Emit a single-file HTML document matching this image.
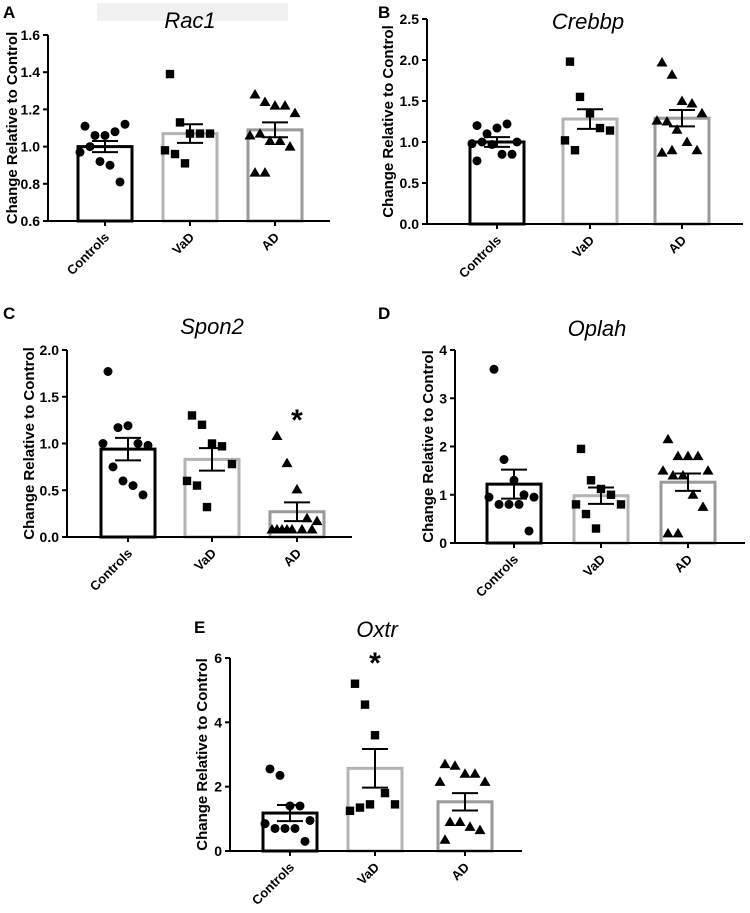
<!DOCTYPE html>
<html><head><meta charset="utf-8"><style>
body{margin:0;background:#fff;}
svg{display:block;font-family:"Liberation Sans",Arial,sans-serif;}
</style></head><body>
<svg id="fig" width="750" height="913" viewBox="0 0 750 913">
<rect x="97" y="3" width="191" height="18" fill="#f1f1f1"/>
</svg>
<script>
const categories = ["Controls","VaD","AD"];
const aMeans=[1.00,1.07,1.09], aErr=[0.03,0.05,0.04];
const aCtrl=[1.11,1.06,1.06,1.08,1.12,0.97,1.00,0.92,0.90,0.81];
const aVaD=[1.39,1.13,1.07,1.07,1.07,0.98,0.96,0.91];
const aAD=[1.28,1.24,1.22,1.22,1.18,1.06,1.07,1.03,1.03,1.00,0.86,0.86];
const aTicks=[0.6,0.8,1.0,1.2,1.4,1.6];
const bMeans=[1.00,1.28,1.29], bErr=[0.06,0.12,0.10];
const bCtrl=[1.20,1.10,1.17,1.22,1.00,0.98,1.00,0.97,0.85,0.85,0.77];
const bVaD=[1.98,1.55,1.35,1.17,1.14,1.02,0.90];
const bAD=[1.97,1.82,1.50,1.47,1.35,1.26,1.25,1.15,1.00,0.90,0.87,0.90];
const bTicks=[0.0,0.5,1.0,1.5,2.0,2.5];
const cMeans=[0.94,0.83,0.27], cErr=[0.12,0.12,0.10];
const cCtrl=[1.77,1.17,1.19,1.00,0.98,1.00,0.75,0.60,0.55,0.45];
const cVaD=[1.30,1.20,1.00,0.97,0.78,0.60,0.55,0.32];
const cAD=[1.08,0.79,0.51,0.20,0.17,0.08,0.08,0.08,0.08,0.08,0.08,0.08];
const cTicks=[0.0,0.5,1.0,1.5,2.0];
const dMeans=[1.22,0.98,1.26], dErr=[0.30,0.17,0.18];
const dCtrl=[3.60,1.73,1.30,1.00,0.95,0.95,0.80,0.80,0.80,0.25];
const dVaD=[1.95,1.30,1.12,1.00,0.80,0.80,0.60,0.30];
const dAD=[2.15,1.80,1.80,1.80,1.50,1.50,1.40,1.40,1.00,0.75,0.20,0.20];
const dTicks=[0,1,2,3,4];
const eMeans=[1.18,2.57,1.53], eErr=[0.25,0.60,0.27];
const eCtrl=[2.55,2.35,1.40,1.40,0.95,0.85,0.70,0.70,0.70,0.30];
const eVaD=[5.20,4.55,3.60,1.80,1.45,1.25,1.35,1.45];
const eAD=[2.70,2.65,2.40,2.40,2.15,2.15,0.90,0.90,0.75,0.65,0.35];
const eTicks=[0,2,4,6];

const svg=document.getElementById('fig');
const NS='http://www.w3.org/2000/svg';
function mk(tag,attrs,parent){const e=document.createElementNS(NS,tag);for(const k in attrs)e.setAttribute(k,attrs[k]);(parent||svg).appendChild(e);return e;}
const barColors=['#000','#b3b3b3','#9a9a9a'];

function panel(cfg){
  const g=mk('g',{});
  
  
  const y0=cfg.ticks[0], y1=cfg.ticks[cfg.ticks.length-1];
  const Y=v=>cfg.bottom-(v-y0)/(y1-y0)*(cfg.bottom-cfg.top);
  const L=mk('text',{x:cfg.lx,y:cfg.ly,'font-size':17,'font-weight':'bold'},g);L.textContent=cfg.letter;
  
  
  const T=mk('text',{x:cfg.tx,y:cfg.ty,'font-size':22,'font-style':'italic','text-anchor':'middle'},g);T.textContent=cfg.title;
  
  
  cfg.means.forEach((m,i)=>{
    const cx=cfg.cx[i];
    const r=mk('rect',{x:cx-27,y:Y(m),width:54,height:cfg.bottom-Y(m),fill:'#fff',stroke:barColors[i],'stroke-width':3},g);
    
    
  });
  cfg.pts.forEach((arr,i)=>{
    const cx=cfg.cx[i];
    arr.forEach((v,j)=>{
      const off=((j%5)-2)*10+(Math.floor(j/5)%2?-5:0);
      const px=cx+off, py=Y(v);
      let p;
      if(i===0)p=mk('circle',{cx:px,cy:py,r:4.5,fill:'#000'},g);
      else if(i===1)p=mk('rect',{x:px-4.2,y:py-4.2,width:8.4,height:8.4,fill:'#000'},g);
      else p=mk('polygon',{points:`${px},${py-5.5} ${px+5.5},${py+4} ${px-5.5},${py+4}`,fill:'#000'},g);
      
      
    });
  });
  cfg.means.forEach((m,i)=>{
    const cx=cfg.cx[i],e=cfg.err[i];
    const eg=mk('g',{stroke:'#000','stroke-width':2},g);
    
    
    mk('line',{x1:cx,x2:cx,y1:Y(m+e),y2:Y(m-e)},eg);
    mk('line',{x1:cx-13,x2:cx+13,y1:Y(m+e),y2:Y(m+e)},eg);
    mk('line',{x1:cx-13,x2:cx+13,y1:Y(m-e),y2:Y(m-e)},eg);
  });
  const ax=mk('g',{stroke:'#000','stroke-width':2},g);
  
  
  mk('line',{x1:cfg.ax,x2:cfg.ax,y1:cfg.top,y2:cfg.bottom},ax);
  mk('line',{x1:cfg.ax,x2:cfg.xend,y1:cfg.bottom,y2:cfg.bottom},ax);
  cfg.ticks.forEach(t=>{
    mk('line',{x1:cfg.ax-5,x2:cfg.ax,y1:Y(t),y2:Y(t)},ax);
    const tl=mk('text',{x:cfg.ax-8,y:Y(t)+5,'font-size':14,'font-weight':'bold','text-anchor':'end'},g);
    tl.textContent=cfg.fmt(t);
    
    
  });
  categories.forEach((c,i)=>{
    const cx=cfg.cx[i];
    mk('line',{x1:cx,x2:cx,y1:cfg.bottom,y2:cfg.bottom+5},ax);
    const xl=mk('text',{x:cx+5,y:cfg.bottom+17,'font-size':13,'font-weight':'bold','text-anchor':'end',transform:`rotate(-45 ${cx+5} ${cfg.bottom+17})`},g);
    xl.textContent=c;
    
    
  });
  const my=(cfg.top+cfg.bottom)/2;
  const yl=mk('text',{x:cfg.ylx,y:my,'font-size':15,'font-weight':'bold','text-anchor':'middle',transform:`rotate(-90 ${cfg.ylx} ${my})`},g);
  yl.textContent='Change Relative to Control';
  
  
  (cfg.stars||[]).forEach(i=>{
    const s=mk('text',{x:cfg.cx[i],y:cfg.starY,'font-size':30,'font-weight':'bold','text-anchor':'middle'},g);
    s.textContent='*';
    
    
  });
}
const f1=t=>t.toFixed(1), f0=t=>String(t);
panel({key:'rac1',letter:'A',lx:3,ly:18,title:'Rac1',tx:190,ty:28,ax:48,top:35,bottom:221,xend:330,cx:[105,190,275],ylx:17,ticks:aTicks,fmt:f1,means:aMeans,err:aErr,pts:[aCtrl,aVaD,aAD]});
panel({key:'crebbp',letter:'B',lx:378,ly:18,title:'Crebbp',tx:588,ty:29,ax:427,top:19,bottom:224,xend:743,cx:[497,590,682],ylx:393,ticks:bTicks,fmt:f1,means:bMeans,err:bErr,pts:[bCtrl,bVaD,bAD]});
panel({key:'spon2',letter:'C',lx:3,ly:319,title:'Spon2',tx:212,ty:334,ax:67,top:350,bottom:537,xend:352,cx:[128,212,297],ylx:34,ticks:cTicks,fmt:f1,means:cMeans,err:cErr,pts:[cCtrl,cVaD,cAD],stars:[2],starY:430});
panel({key:'oplah',letter:'D',lx:378,ly:319,title:'Oplah',tx:597,ty:336,ax:455,top:350,bottom:543,xend:745,cx:[514,601,688],ylx:433,ticks:dTicks,fmt:f0,means:dMeans,err:dErr,pts:[dCtrl,dVaD,dAD]});
panel({key:'oxtr',letter:'E',lx:194,ly:633,title:'Oxtr',tx:377,ty:637,ax:230,top:658,bottom:851,xend:522,cx:[290,375,465],ylx:207,ticks:eTicks,fmt:f0,means:eMeans,err:eErr,pts:[eCtrl,eVaD,eAD],stars:[1],starY:673});
</script>
</body></html>
